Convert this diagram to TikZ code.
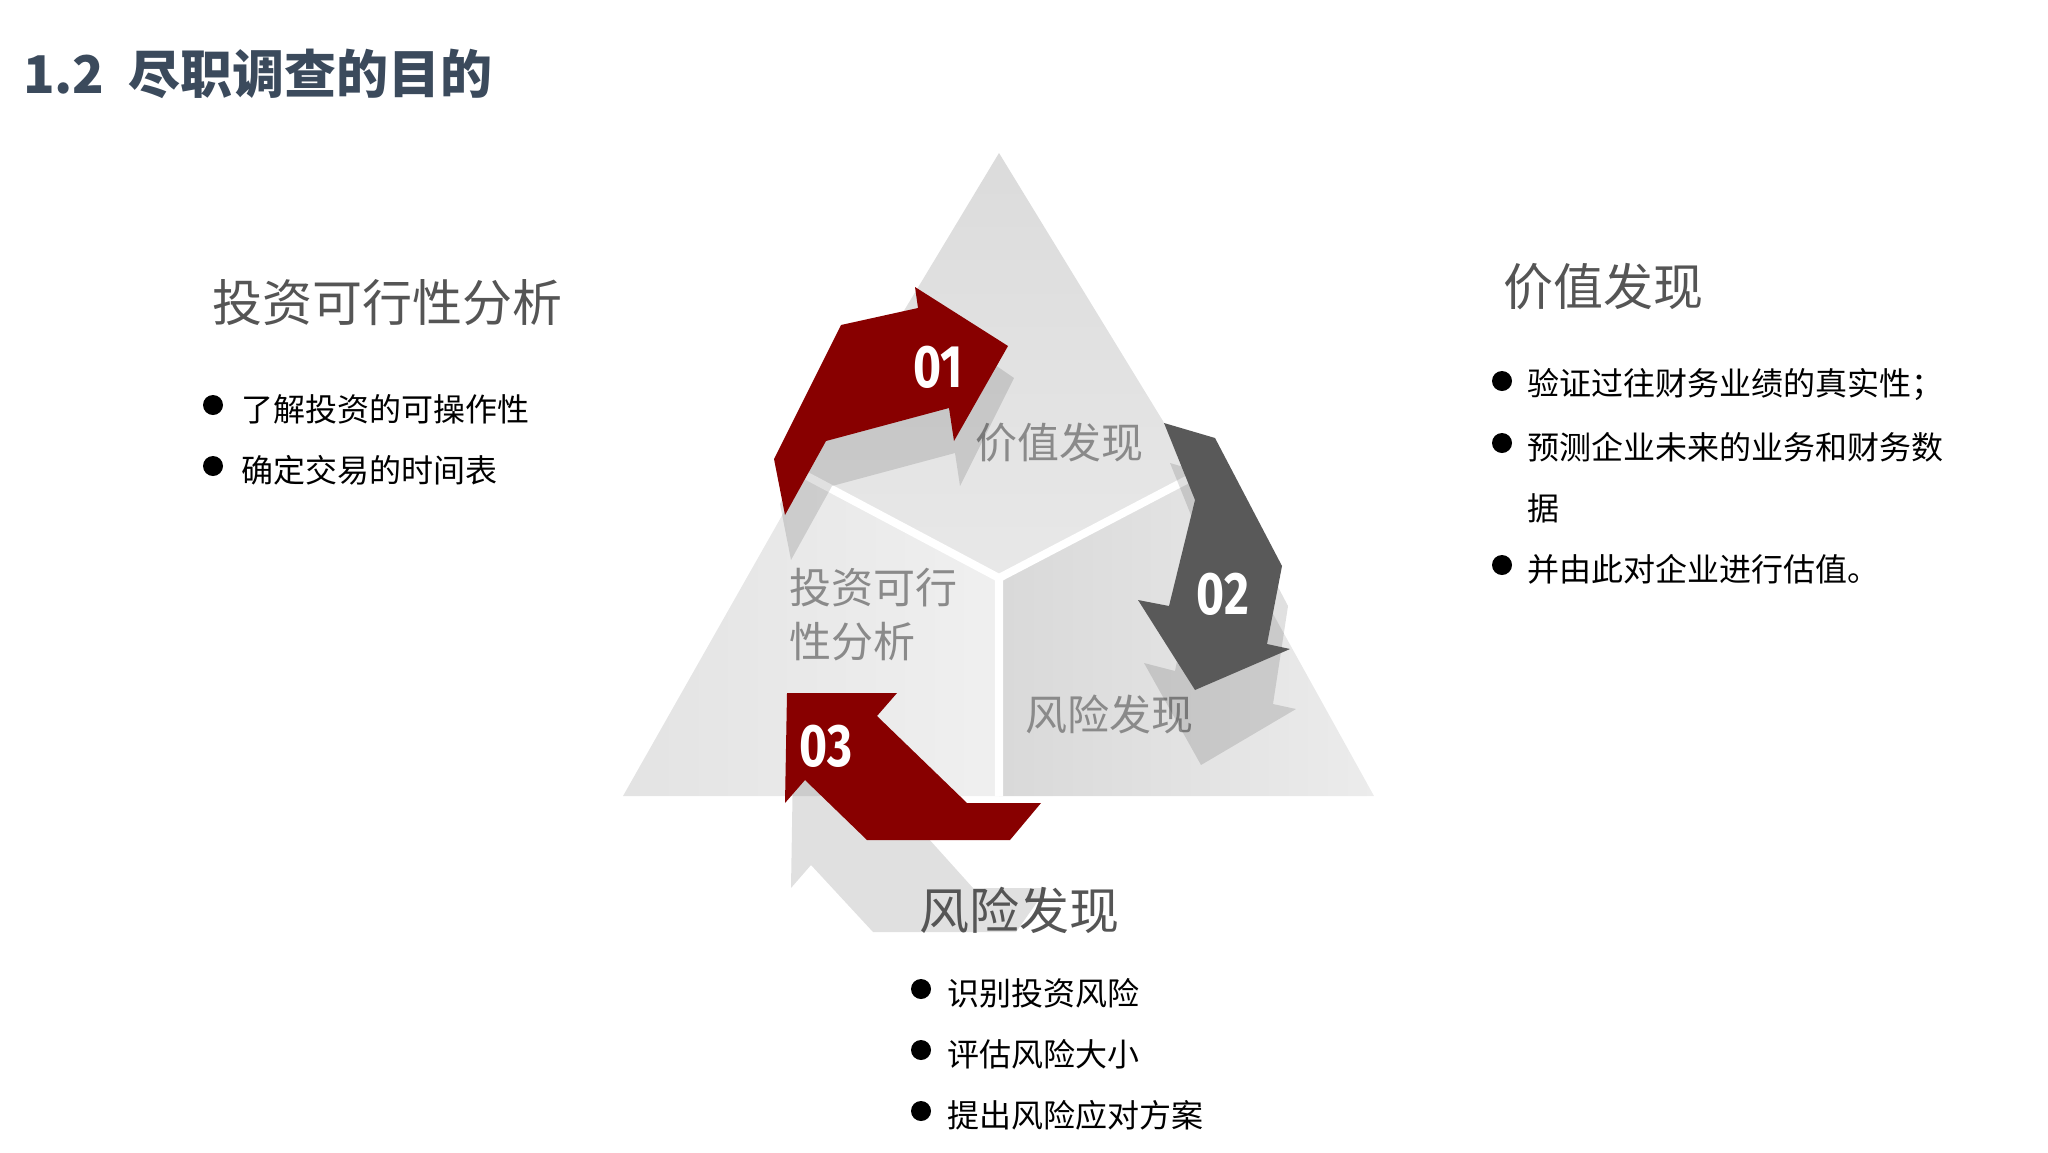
\documentclass[tikz,border=0pt]{standalone}
\usepackage{fontspec}
\setmainfont{Noto Sans CJK SC}
\newfontfamily\numfont{Fira Sans}
\definecolor{titlec}{HTML}{3B4A5C}
\definecolor{headc}{HTML}{555555}
\definecolor{darkred}{HTML}{880000}
\definecolor{darkgrey}{HTML}{595959}
\definecolor{innerc}{HTML}{8A8A8A}
\begin{document}
\begin{tikzpicture}[x=0.5pt,y=-0.5pt,
  head/.style={anchor=west,text=headc,font=\fontsize{25}{30}\selectfont},
  btxt/.style={anchor=west,font=\fontsize{16}{20}\selectfont},
  dot/.style={circle,fill=black,inner sep=0pt,minimum size=10pt},
  inner/.style={anchor=west,text=innerc,font=\fontsize{21}{27}\selectfont,align=left},
  num/.style={text=white,font=\numfont\bfseries\fontsize{30}{30}\selectfont,xscale=0.8},
  shad/.style={fill=black,opacity=0.12}]
\useasboundingbox (0,0) rectangle (2048,1152);
% title
\node[anchor=west,text=titlec,font=\bfseries\fontsize{26}{30}\selectfont] (title) at (16,74) {1.2\ \ 尽职调查的目的};
% triangle sectors
\coordinate (A) at (999,153); \coordinate (L) at (623,796); \coordinate (R) at (1374,796);
\coordinate (C) at (999,578); \coordinate (ML) at (805,475); \coordinate (MR) at (1196,475); \coordinate (MB) at (999,796);
\shade[top color=gray!28,bottom color=gray!18] (A) -- (MR) -- (C) -- (ML) -- cycle;
\shade[left color=gray!22,right color=gray!12] (ML) -- (C) -- (MB) -- (L) -- cycle;
\shade[left color=gray!30,right color=gray!15] (MR) -- (R) -- (MB) -- (C) -- cycle;
\draw[white,line width=4pt] (ML) -- (C) -- (MR) (C) -- (MB);
% inner labels
\node[inner] (iv) at (968,443) {价值发现};
\node[inner] (ii) at (782,615) {投资可行\\性分析};
\node[inner] (ir) at (1018,714) {风险发现};
% shadows
\fill[shad] (780,504)--(847,370)--(924,353)--(921,314)--(1014,378)--(960,486)--(955,453)--(832,486)--(791,560)--cycle;
\fill[shad] (1170,463)--(1221,478)--(1288,606)--(1273,704)--(1296,709)--(1201,765)--(1144,663)--(1175,671)--(1201,540)--cycle;
\fill[shad] (793,765)--(903,765)--(883,788)--(973,888)--(1047,888)--(1016,932)--(873,932)--(811,865)--(791,888)--cycle;
% arrows
\fill[darkred] (774,459)--(841,325)--(918,308)--(915,287)--(1008,346)--(954,441)--(949,408)--(826,441)--(785,515)--cycle;
\fill[darkgrey] (1164,423)--(1215,438)--(1282,566)--(1267,644)--(1290,649)--(1195,690)--(1138,600)--(1169,606)--(1195,500)--cycle;
\fill[darkred] (787,693)--(897,693)--(877,716)--(967,803)--(1041,803)--(1010,840)--(867,840)--(805,780)--(785,803)--cycle;
\node[num] (n1) at (938,367) {01};
\node[num] (n2) at (1223,594) {02};
\node[num] (n3) at (826,746) {03};
% outer texts
\node[head] (h1) at (205,303) {投资可行性分析};
\node[dot] (d11) at (213,405) {}; \node[btxt] (t11) at (234,409) {了解投资的可操作性};
\node[dot] (d12) at (213,466) {}; \node[btxt] (t12) at (234,470) {确定交易的时间表};
\node[head] (h2) at (1496,287) {价值发现};
\node[dot] (d21) at (1502,381) {}; \node[btxt] (t21) at (1520,385) {验证过往财务业绩的真实性；};
\node[dot] (d22) at (1502,443) {}; \node[btxt] (t22) at (1520,447) {预测企业未来的业务和财务数};
\node[btxt] (t23) at (1520,508) {据};
\node[dot] (d24) at (1502,565) {}; \node[btxt] (t24) at (1520,569) {并由此对企业进行估值。};
\node[head] (h3) at (912,910) {风险发现};
\node[dot] (d31) at (921,989) {}; \node[btxt] (t31) at (940,993) {识别投资风险};
\node[dot] (d32) at (921,1050) {}; \node[btxt] (t32) at (940,1054) {评估风险大小};
\node[dot] (d33) at (921,1111) {}; \node[btxt] (t33) at (940,1115) {提出风险应对方案};
\end{tikzpicture}
\end{document}
